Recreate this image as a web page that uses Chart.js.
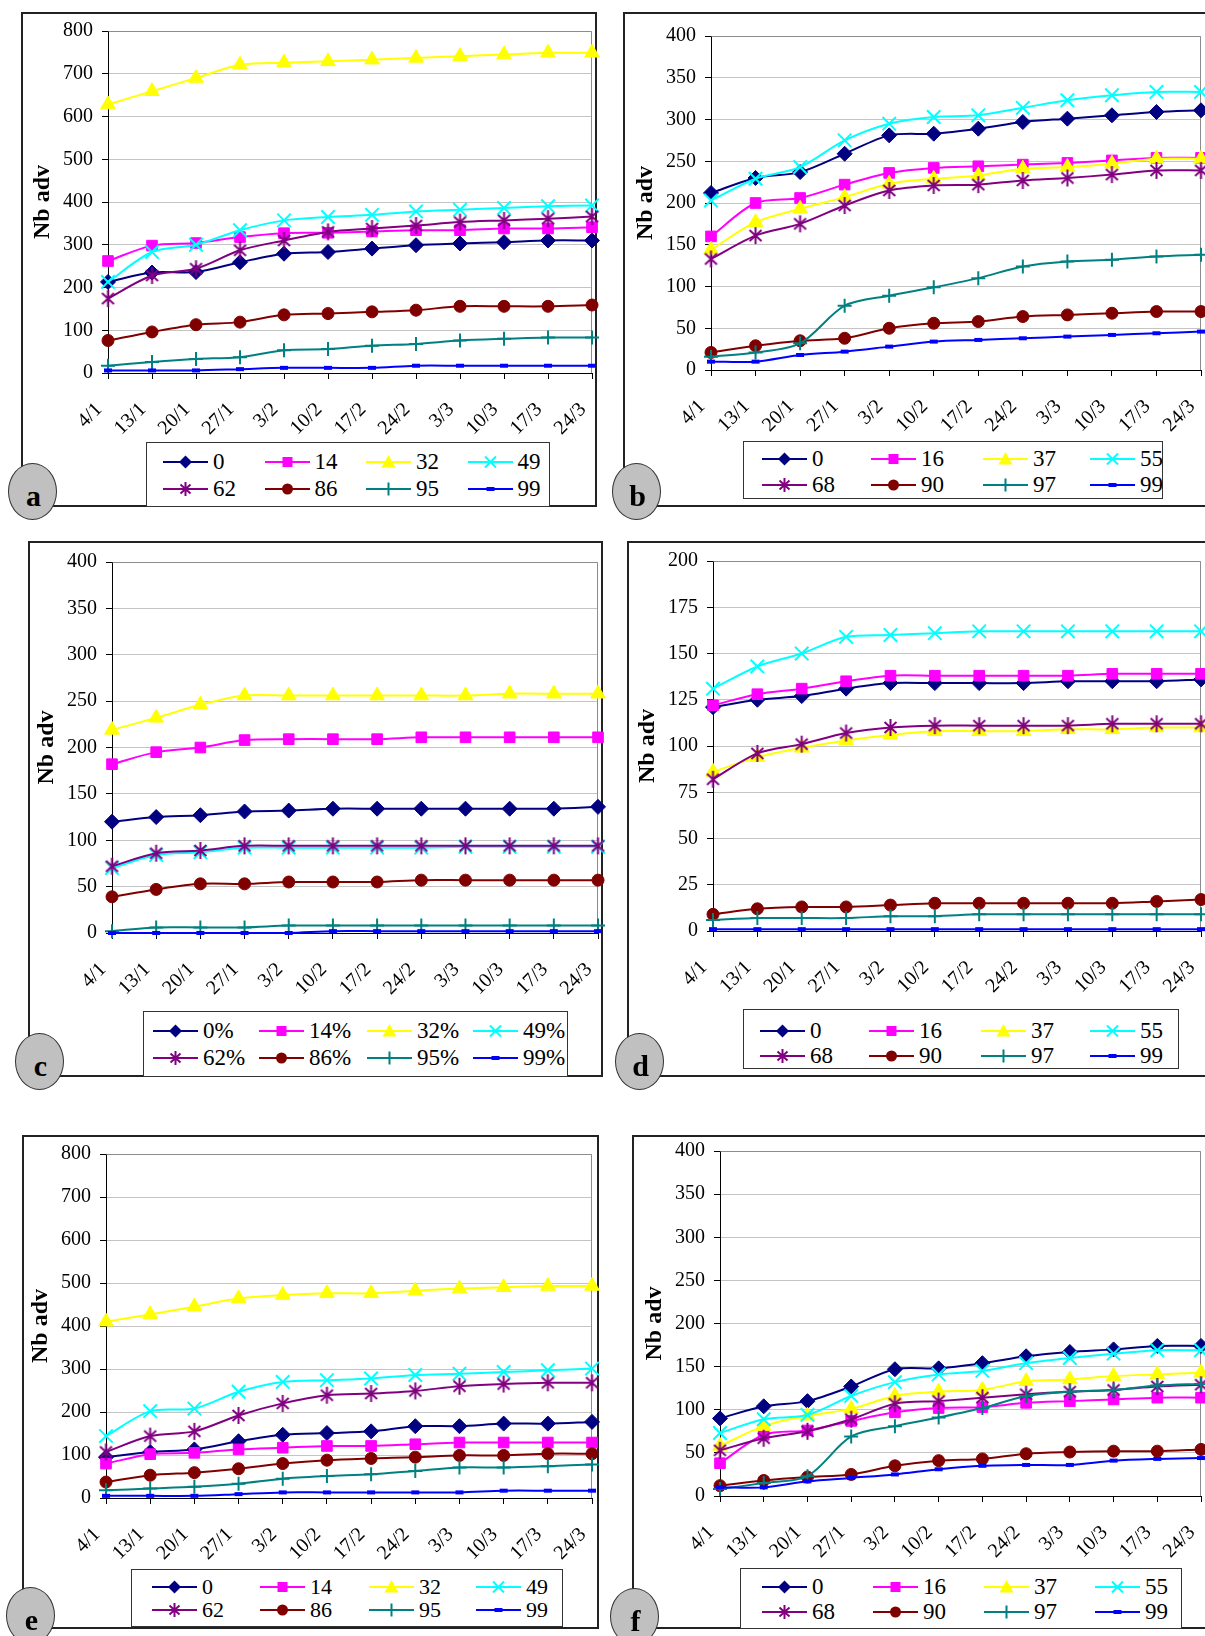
<!DOCTYPE html>
<html><head><meta charset="utf-8">
<script src="https://cdn.jsdelivr.net/npm/chart.js@4.4.1/dist/chart.umd.min.js"></script>
<style>
html,body{margin:0;padding:0;background:#fff;width:1205px;height:1636px;overflow:hidden;position:relative;font-family:'Liberation Serif','Times New Roman',serif;}
.frame{position:absolute;border:2px solid #222;box-sizing:border-box;}
canvas{position:absolute;}
.legend{position:absolute;border:1.5px solid #333;background:#fff;box-sizing:border-box;}
.item{position:absolute;display:flex;align-items:center;height:24px;line-height:24px;color:#000;white-space:nowrap;}
.item span{margin-left:5px;}
.circ{position:absolute;width:49px;height:57px;border-radius:50%;background:#c0c0c0;border:1.5px solid #333;box-sizing:border-box;}
.circ span{position:absolute;left:3px;right:0;top:17px;text-align:center;font-weight:bold;font-size:30px;line-height:30px;color:#000;}
</style></head><body>
<script>
// ---------- data ----------
const categories = ['4/1','13/1','20/1','27/1','3/2','10/2','17/2','24/2','3/3','10/3','17/3','24/3'];

const aLabels = ['0','14','32','49','62','86','95','99'];
const a0  = [213,235,236,259,279,283,291,299,303,306,310,310];
const a14 = [262,298,304,318,327,328,331,334,334,338,338,341];
const a32 = [628,659,690,721,726,729,733,737,741,745,749,749];
const a49 = [213,283,300,334,357,365,370,378,382,386,390,392];
const a62 = [174,228,244,287,310,330,338,345,353,357,361,366];
const a86 = [76,96,113,119,136,139,143,147,156,156,156,159];
const a95 = [17,26,33,37,53,56,64,68,76,80,83,83];
const a99 = [6,6,6,9,12,12,12,17,17,17,17,17];

const bLabels = ['0','16','37','55','68','90','97','99'];
const b0  = [212,230,237,259,281,283,289,297,301,305,309,311];
const b16 = [160,200,206,222,236,242,244,246,248,251,254,254];
const b37 = [144,177,193,207,223,229,233,241,243,247,253,253];
const b55 = [203,229,243,275,295,303,305,314,323,329,333,333];
const b68 = [133,161,175,197,215,221,222,227,230,234,239,239];
const b90 = [21,29,35,38,50,56,58,64,66,68,70,70];
const b97 = [16,21,32,77,89,99,110,124,130,132,136,138];
const b99 = [10,10,18,22,28,34,36,38,40,42,44,46];

const cLabels = ['0%','14%','32%','49%','62%','86%','95%','99%'];
const c0  = [120,125,127,131,132,134,134,134,134,134,134,136];
const c14 = [182,195,200,208,209,209,209,211,211,211,211,211];
const c32 = [219,232,246,256,256,256,256,256,256,258,258,258];
const c49 = [70,84,87,92,92,92,92,92,93,93,93,93];
const c62 = [72,86,89,94,94,94,94,94,94,94,94,94];
const c86 = [39,47,53,53,55,55,55,57,57,57,57,57];
const c95 = [2,6,6,6,8,8,8,8,8,8,8,8];
const c99 = [0,0,0,0,0,2,2,2,2,2,2,2];

const dLabels = ['0','16','37','55','68','90','97','99'];
const d0  = [121,125,127,131,134,134,134,134,135,135,135,136];
const d16 = [122,128,131,135,138,138,138,138,138,139,139,139];
const d37 = [86,94,99,103,106,108,108,108,109,109,110,110];
const d55 = [131,143,150,159,160,161,162,162,162,162,162,162];
const d68 = [82,96,101,107,110,111,111,111,111,112,112,112];
const d90 = [9,12,13,13,14,15,15,15,15,15,16,17];
const d97 = [6,7,7,7,8,8,9,9,9,9,9,9];
const d99 = [1,1,1,1,1,1,1,1,1,1,1,1];

const eLabels = ['0','14','32','49','62','86','95','99'];
const e0  = [95,107,113,132,147,151,155,167,167,173,173,177];
const e14 = [80,102,105,113,117,121,121,125,129,129,129,129];
const e32 = [410,427,445,464,472,476,476,482,487,490,493,493];
const e49 = [144,202,208,247,270,274,278,286,289,293,297,301];
const e62 = [107,144,155,192,220,239,243,249,260,265,268,268];
const e86 = [37,53,59,68,80,88,92,95,99,99,103,103];
const e95 = [18,22,26,33,45,51,55,63,71,71,74,78];
const e99 = [5,5,5,9,13,13,13,13,13,17,17,17];

const fLabels = ['0','16','37','55','68','90','97','99'];
const f0  = [90,104,110,127,147,148,154,162,167,170,174,174];
const f16 = [38,71,76,87,97,102,103,108,110,112,114,114];
const f37 = [58,81,93,101,116,121,123,133,135,139,141,143];
const f55 = [73,89,94,116,132,141,145,154,160,165,169,169];
const f68 = [53,67,75,89,107,110,114,118,121,123,127,129];
const f90 = [12,18,22,25,35,41,43,49,51,52,52,54];
const f97 = [8,15,23,69,81,91,102,116,121,123,128,130];
const f99 = [10,10,17,21,25,31,35,36,36,41,43,44];

// ---------- layout / style ----------
const FF = "'Liberation Serif','Times New Roman',serif";
const COLORS = ['#000080','#FF00FF','#FFFF00','#00FFFF','#800080','#800000','#008080','#0000FF'];

const panels = [
 {id:'a', labels:aLabels, series:[a0,a14,a32,a49,a62,a86,a95,a99], yMax:800, step:100,
  plot:[108,31,592,373], frame:[21,12,597,507], circ:[32,491],
  legend:{box:[146,442,550,507], cols:[163,264.5,366,467.5], rows:[461.7,489], fs:23}},
 {id:'b', labels:bLabels, series:[b0,b16,b37,b55,b68,b90,b97,b99], yMax:400, step:50,
  plot:[711,36,1201,370], frame:[623,12,1212,507], circ:[636,491],
  legend:{box:[743,441,1163,499], cols:[762,871,983,1090], rows:[459,485], fs:23}},
 {id:'c', labels:cLabels, series:[c0,c14,c32,c49,c62,c86,c95,c99], yMax:400, step:50,
  plot:[112,562,598,933], frame:[28,541,603,1077], circ:[39,1061],
  legend:{box:[143,1011,568,1077], cols:[153,259,367,473], rows:[1031,1058], fs:23}},
 {id:'d', labels:dLabels, series:[d0,d16,d37,d55,d68,d90,d97,d99], yMax:200, step:25,
  plot:[713,561,1201,931], frame:[627,541,1212,1077], circ:[639,1061],
  legend:{box:[743,1009,1179,1069], cols:[760,869,981,1090], rows:[1031,1056], fs:23}},
 {id:'e', labels:eLabels, series:[e0,e14,e32,e49,e62,e86,e95,e99], yMax:800, step:100,
  plot:[106,1154,592,1498], frame:[22,1135,599,1629], circ:[30,1615],
  legend:{box:[131,1569,563,1627], cols:[152,260,369,476], rows:[1587,1610], fs:22}},
 {id:'f', labels:fLabels, series:[f0,f16,f37,f55,f68,f90,f97,f99], yMax:400, step:50,
  plot:[720,1151,1201,1496], frame:[632,1135,1212,1629], circ:[634,1616],
  legend:{box:[740,1568,1182,1629], cols:[762,873,984,1095], rows:[1587,1612], fs:23}}
];

function starCanvas(){
  const c=document.createElement('canvas'); c.width=19; c.height=19;
  const g=c.getContext('2d'); g.strokeStyle='#800080'; g.lineWidth=2;
  g.beginPath(); g.moveTo(9.5,1); g.lineTo(9.5,18);
  g.moveTo(3.5,4); g.lineTo(15.5,15); g.moveTo(15.5,4); g.lineTo(3.5,15); g.stroke();
  return c;
}
const STAR = starCanvas();
const STYLES = [
 {ps:'rectRot', r:7.5, bw:1},
 {ps:'rect', r:7.5, bw:1},
 {ps:'triangle', r:8.5, bw:1},
 {ps:'crossRot', r:9.5, bw:2},
 {ps:STAR, r:9, bw:2},
 {ps:'circle', r:6, bw:1},
 {ps:'cross', r:7, bw:2},
 {ps:'line', r:4, bw:4}
];

// size the axis title so that "Nb adv" spans ~74px like the reference
const TITLE_SIZE = (function(){
  const g=document.createElement('canvas').getContext('2d');
  g.font = "bold 24px " + FF;
  const w = g.measureText('Nb adv').width;
  let s = 24 * 74 / w;
  if (!isFinite(s) || s < 20 || s > 30) s = 24;
  return Math.round(s*2)/2;
})();

function markerSVG(i){
  const c=COLORS[i]; let m='';
  switch(i){
    case 0: m=`<polygon points="22.5,0.5 29,7 22.5,13.5 16,7" fill="${c}"/>`; break;
    case 1: m=`<rect x="17.5" y="2" width="10" height="10" fill="${c}"/>`; break;
    case 2: m=`<polygon points="22.5,0 29.5,12.5 15.5,12.5" fill="${c}"/>`; break;
    case 3: m=`<path d="M17 1.5 L28 12.5 M28 1.5 L17 12.5" stroke="${c}" stroke-width="2"/>`; break;
    case 4: m=`<path d="M22.5 0 L22.5 14 M17.5 2.5 L27.5 11.5 M27.5 2.5 L17.5 11.5" stroke="${c}" stroke-width="2"/>`; break;
    case 5: m=`<circle cx="22.5" cy="7" r="5.5" fill="${c}"/>`; break;
    case 6: m=`<path d="M22.5 0.5 L22.5 13.5 M16 7 L29 7" stroke="${c}" stroke-width="2"/>`; break;
    case 7: m=`<rect x="18.5" y="5" width="8" height="4" fill="${c}"/>`; break;
  }
  return `<svg width="45" height="14" viewBox="0 0 45 14"><line x1="0" y1="7" x2="45" y2="7" stroke="${c}" stroke-width="2"/>${m}</svg>`;
}

const borderPlugin = {
  id:'plotBorder',
  beforeDatasetsDraw(chart){
    const {ctx, chartArea:a} = chart;
    ctx.save(); ctx.strokeStyle='#8c8c8c'; ctx.lineWidth=1;
    ctx.beginPath();
    ctx.moveTo(Math.round(a.left)+0.5, Math.round(a.top)+0.5);
    ctx.lineTo(Math.round(a.right)-0.5, Math.round(a.top)+0.5);
    ctx.lineTo(Math.round(a.right)-0.5, Math.round(a.bottom));
    ctx.stroke(); ctx.restore();
  }
};

const YW = 80, XH = 85, PT = 15, PR = 12;

function makeConfig(p){
  return {
    type:'line',
    data:{
      labels:categories,
      datasets:p.series.map((d,i)=>({
        label:p.labels[i], data:d,
        borderColor:COLORS[i], backgroundColor:COLORS[i], borderWidth:2,
        pointStyle:STYLES[i].ps, pointRadius:STYLES[i].r, pointBorderWidth:STYLES[i].bw,
        pointBackgroundColor:COLORS[i], pointBorderColor:COLORS[i],
        tension:0.3, order:-i, clip:false, fill:false
      }))
    },
    options:{
      responsive:false, animation:false, devicePixelRatio:1, events:[],
      layout:{padding:{top:PT,right:PR,left:0,bottom:0}},
      plugins:{legend:{display:false}, tooltip:{enabled:false}},
      scales:{
        x:{type:'category', offset:false,
           grid:{display:true, drawOnChartArea:false, drawTicks:true, tickLength:6, tickColor:'#000'},
           border:{display:true, color:'#000', width:1},
           ticks:{color:'#000', font:{family:FF,size:20}, minRotation:45, maxRotation:45, autoSkip:false, padding:19, labelOffset:-9},
           afterFit(s){ s.height = XH; }},
        y:{min:0, max:p.yMax,
           ticks:{stepSize:p.step, color:'#000', font:{family:FF,size:20}, padding:9},
           grid:{color:'#c4c4c4', tickColor:'#000', tickLength:6},
           border:{display:true, color:'#000', width:1},
           title:{display:true, text:'Nb adv', color:'#000', font:{family:FF,size:TITLE_SIZE,weight:'bold'}, padding:0},
           afterFit(s){ s.width = YW; }}
      }
    },
    plugins:[borderPlugin]
  };
}

function build(cv, p, W, H){
  cv.width=W; cv.height=H; cv.style.width=W+'px'; cv.style.height=H+'px';
  return new Chart(cv, makeConfig(p));
}

panels.forEach(p=>{
  const [fl,ft,fr,fb] = p.frame;
  const fr_ = document.createElement('div'); fr_.className='frame';
  Object.assign(fr_.style,{left:fl+'px',top:ft+'px',width:(fr-fl)+'px',height:(fb-ft)+'px'});
  document.body.appendChild(fr_);

  const [pl,pt,pr,pb] = p.plot;
  const cv = document.createElement('canvas');
  document.body.appendChild(cv);
  let W = (pr-pl)+YW+PR, H = (pb-pt)+PT+XH;
  let ch = build(cv, p, W, H);
  let ca = ch.chartArea;
  const dW = Math.round((pr-pl)-(ca.right-ca.left)), dH = Math.round((pb-pt)-(ca.bottom-ca.top));
  if (dW || dH){ ch.destroy(); W += dW; H += dH; ch = build(cv, p, W, H); ca = ch.chartArea; }
  cv.style.left = Math.round(pl - ca.left)+'px';
  cv.style.top = Math.round(pt - ca.top)+'px';

  const L = p.legend;
  const lb = document.createElement('div'); lb.className='legend';
  Object.assign(lb.style,{left:L.box[0]+'px',top:L.box[1]+'px',width:(L.box[2]-L.box[0])+'px',height:(L.box[3]-L.box[1])+'px'});
  document.body.appendChild(lb);
  p.labels.forEach((lab,i)=>{
    const it=document.createElement('div'); it.className='item';
    it.style.left = L.cols[i%4]+'px';
    it.style.top = (L.rows[Math.floor(i/4)]-12)+'px';
    it.style.fontSize = L.fs+'px';
    it.innerHTML = markerSVG(i)+`<span>${lab}</span>`;
    document.body.appendChild(it);
  });

  const c = document.createElement('div'); c.className='circ';
  Object.assign(c.style,{left:(p.circ[0]-24.5)+'px',top:(p.circ[1]-28.5)+'px'});
  c.innerHTML = `<span>${p.id}</span>`;
  document.body.appendChild(c);
});
</script>
</body></html>
